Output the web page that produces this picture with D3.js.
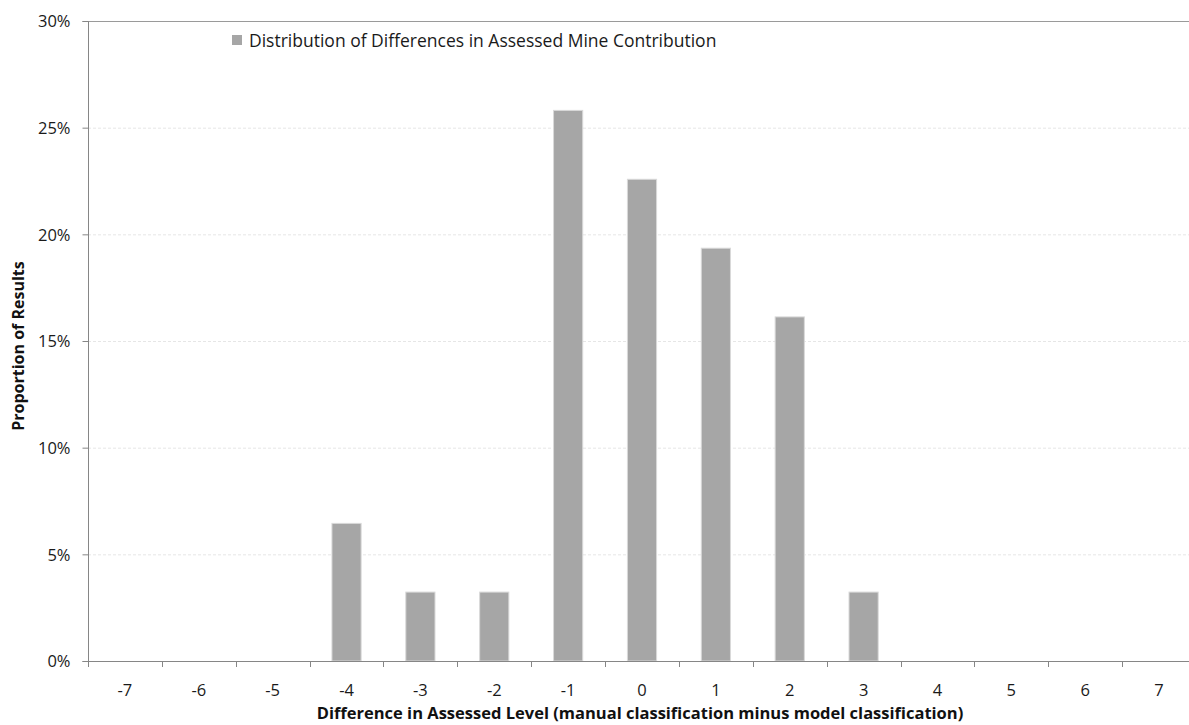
<!DOCTYPE html>
<html><head><meta charset="utf-8">
<script src="https://cdn.jsdelivr.net/npm/d3@7"></script>
<style>
body{margin:0;background:#fff;}
svg{display:block;font-family:"Open Sans","Liberation Sans",sans-serif;}
</style></head><body>
<svg id="c" width="1189" height="725"></svg>
<script>
const categories = ["-7","-6","-5","-4","-3","-2","-1","0","1","2","3","4","5","6","7"];
const values = [0,0,0,6.45,3.23,3.23,25.81,22.58,19.35,16.13,3.23,0,0,0,0];
const yTicks = [0,5,10,15,20,25,30];
const seriesName = "Distribution of Differences in Assessed Mine Contribution";
const xTitle = "Difference in Assessed Level (manual classification minus model classification)";
const yTitle = "Proportion of Results";

(function(){
const svg = d3.select("#c");
const mLeft = 88, mRight = 1196, mTop = 21, mBottom = 661;
const x = d3.scaleBand().domain(categories).range([mLeft, mRight]).paddingInner(0.605).paddingOuter(0.3025);
const xb = d3.scaleBand().domain(categories).range([mLeft, mRight]);
const y = d3.scaleLinear().domain([0,30]).range([mBottom, mTop]);

// gridlines
svg.append("g").selectAll("line").data(yTicks.filter(d=>d>0 && d<30)).join("line")
  .attr("x1", mLeft).attr("x2", mRight).attr("y1", d=>y(d)+0.5).attr("y2", d=>y(d)+0.5)
  .attr("stroke","#e6e6e6").attr("stroke-dasharray","3,2");
// top border
svg.append("line").attr("x1",mLeft).attr("x2",mRight).attr("y1",y(30)+0.5).attr("y2",y(30)+0.5).attr("stroke","#9a9a9a");

// bars
svg.append("g").selectAll("rect").data(categories.map((c,i)=>({c,v:values[i]})).filter(d=>d.v>0)).join("rect")
  .attr("x", d=>x(d.c)).attr("width", x.bandwidth())
  .attr("y", d=>y(d.v)).attr("height", d=>y(0)-y(d.v))
  .attr("fill","#a6a6a6").attr("stroke","#d9d9d9").attr("stroke-width",1);

// y axis
const yAxis = d3.axisLeft(y).tickValues(yTicks).tickFormat(d=>d+"%").tickSize(6).tickPadding(12);
const gy = svg.append("g").attr("transform",`translate(${mLeft+0.5},0)`).call(yAxis);
gy.select(".domain").attr("stroke","#868686").attr("d",`M-6,${y(30)+0.5}H0V${mBottom+0.5}H-6`);
gy.selectAll(".tick line").attr("stroke","#868686");
gy.selectAll(".tick text").attr("font-size",16.5).attr("fill","#1a1a1a").attr("dy","0.35em").attr("font-family","'Open Sans',sans-serif");
gy.selectAll(".tick").attr("transform", d=>`translate(0,${y(d)+0.5})`);

// x axis: labels centered in bands, ticks at boundaries
const gx = svg.append("g");
gx.append("line").attr("x1",mLeft).attr("x2",mRight).attr("y1",mBottom+0.5).attr("y2",mBottom+0.5).attr("stroke","#868686");
gx.selectAll("line.t").data(categories).join("line").attr("class","t")
  .attr("x1",d=>Math.round(xb(d))+0.5).attr("x2",d=>Math.round(xb(d))+0.5)
  .attr("y1",mBottom).attr("y2",mBottom+6).attr("stroke","#868686");
gx.selectAll("text").data(categories).join("text")
  .attr("x",d=>xb(d)+xb.bandwidth()/2).attr("y",696)
  .attr("text-anchor","middle").attr("font-size",16.5).attr("fill","#1a1a1a").text(d=>d);

// axis titles
svg.append("text").attr("x",640).attr("y",719).attr("text-anchor","middle")
  .attr("font-size",16.5).attr("font-weight","bold").attr("fill","#111").text(xTitle);
svg.append("text").attr("transform","translate(24,346) rotate(-90)").attr("text-anchor","middle")
  .attr("font-size",16).attr("font-weight","bold").attr("fill","#111").text(yTitle);

// legend
svg.append("rect").attr("x",232).attr("y",35).attr("width",10).attr("height",10).attr("fill","#a6a6a6");
svg.append("text").attr("x",249).attr("y",47).attr("font-size",17.5).attr("fill","#1a1a1a").text(seriesName);
})();
</script>
</body></html>
